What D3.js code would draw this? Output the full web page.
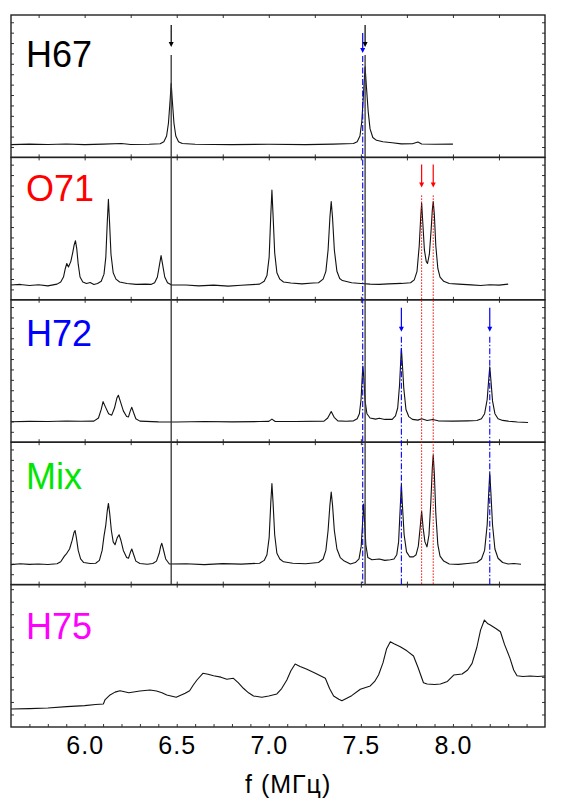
<!DOCTYPE html>
<html>
<head>
<meta charset="utf-8">
<script src="https://cdn.jsdelivr.net/npm/d3@7"></script>
<style>
  body { margin: 0; background: #fff; }
  text { font-family: "Liberation Sans", Arial, sans-serif; }
</style>
</head>
<body>
<div class="chart"></div>
<script>
// Spectra, [f (MHz), intensity in % of panel height]
var h67 = [[5.60, 9], [5.70, 9.3], [5.80, 9.1], [5.90, 9.4], [6.00, 9], [6.10, 9.3], [6.20, 9.8],
  [6.25, 9.1], [6.35, 9.2], [6.41, 9.6], [6.43, 11], [6.445, 15], [6.455, 24], [6.464, 40],
  [6.47, 52], [6.476, 40], [6.485, 24], [6.495, 15], [6.51, 11], [6.53, 9.8], [6.60, 9.2],
  [6.80, 9], [7.00, 9.2], [7.20, 9], [7.35, 9.3], [7.46, 9.8], [7.48, 11], [7.495, 15],
  [7.505, 25], [7.515, 46], [7.523, 63.7], [7.53, 50], [7.54, 32], [7.55, 20], [7.565, 14],
  [7.585, 12], [7.62, 11], [7.67, 10.3], [7.72, 9.5], [7.78, 9.6], [7.81, 10.8], [7.83, 9.4],
  [7.90, 9.2], [8.00, 9.3]];

var o71 = [[5.60, 10.4], [5.65, 10.8], [5.70, 10], [5.75, 10.6], [5.80, 9.8], [5.85, 11],
  [5.87, 12.5], [5.885, 16], [5.895, 22], [5.903, 25.5], [5.912, 23], [5.925, 27], [5.935, 33],
  [5.943, 38.5], [5.95, 41.5], [5.957, 36], [5.965, 25], [5.975, 16], [5.99, 12.5], [6.01, 11.5],
  [6.03, 12.2], [6.05, 10.8], [6.07, 11.5], [6.09, 13], [6.105, 18], [6.115, 30], [6.123, 55],
  [6.129, 70.5], [6.135, 55], [6.143, 32], [6.155, 19], [6.17, 14.5], [6.19, 12.5], [6.23, 11.5],
  [6.28, 10.8], [6.33, 11], [6.36, 10.8], [6.38, 12], [6.395, 16], [6.407, 25], [6.415, 31],
  [6.423, 25], [6.435, 16], [6.45, 12], [6.47, 10.5], [6.55, 10.4], [6.62, 9.8], [6.70, 10.3],
  [6.78, 9.6], [6.85, 10.2], [6.95, 11], [6.975, 13], [6.99, 17], [7.002, 30], [7.011, 60],
  [7.017, 77], [7.023, 60], [7.032, 33], [7.044, 19], [7.06, 14.5], [7.08, 12.5], [7.12, 11.8],
  [7.18, 11.2], [7.24, 11.8], [7.27, 12], [7.295, 14.5], [7.31, 20], [7.322, 35], [7.332, 58],
  [7.339, 69], [7.346, 58], [7.356, 35], [7.37, 20], [7.385, 15], [7.40, 13.5], [7.45, 12],
  [7.50, 11.5], [7.55, 11], [7.60, 10.8], [7.65, 11.2], [7.72, 11.5], [7.77, 12], [7.79, 14],
  [7.805, 20], [7.817, 38], [7.825, 58], [7.83, 68], [7.836, 55], [7.845, 35], [7.855, 27],
  [7.862, 25.5], [7.872, 32], [7.882, 50], [7.888, 63], [7.893, 69], [7.899, 60], [7.907, 38],
  [7.918, 22], [7.93, 16], [7.95, 13], [7.98, 11.5], [8.03, 11], [8.10, 10.5], [8.15, 10],
  [8.20, 10.6], [8.25, 10.3], [8.30, 11]];

var h72 = [[5.60, 14.4], [5.70, 14.6], [5.80, 14.5], [5.90, 14.9], [5.98, 14.7], [6.05, 14.8],
  [6.075, 17], [6.09, 23], [6.10, 28.5], [6.112, 25], [6.13, 20], [6.147, 19], [6.162, 24],
  [6.175, 31], [6.183, 33], [6.193, 29], [6.21, 22], [6.228, 18], [6.238, 17.8], [6.248, 22],
  [6.256, 24.5], [6.265, 21], [6.278, 16.5], [6.30, 14.8], [6.40, 14.3], [6.50, 14.2],
  [6.65, 14.5], [6.80, 14.3], [6.95, 14.5], [7.00, 14.6], [7.017, 16.2], [7.035, 14.5],
  [7.15, 14.5], [7.30, 14.8], [7.32, 17], [7.339, 21.5], [7.355, 17.5], [7.375, 15],
  [7.42, 14.7], [7.46, 15], [7.48, 16.5], [7.492, 20], [7.501, 30], [7.507, 45], [7.511, 53.5],
  [7.516, 45], [7.523, 29], [7.533, 20], [7.55, 17], [7.58, 16.2], [7.60, 16.8], [7.63, 16],
  [7.67, 16], [7.688, 18.5], [7.70, 24], [7.71, 40], [7.716, 56], [7.72, 66], [7.725, 56],
  [7.733, 38], [7.745, 23], [7.76, 18], [7.78, 16], [7.81, 15.5], [7.83, 16.5], [7.86, 15.2],
  [7.89, 16], [7.92, 15], [8.00, 14.8], [8.08, 15], [8.13, 15.2], [8.155, 16.5], [8.172, 20],
  [8.186, 30], [8.195, 45], [8.20, 53], [8.206, 44], [8.215, 29], [8.228, 20], [8.245, 16.5],
  [8.27, 15.3], [8.30, 14.8], [8.35, 14.2], [8.408, 13.8]];

var mix = [[5.60, 14], [5.65, 14.6], [5.70, 14.2], [5.75, 14.5], [5.80, 14.1], [5.85, 14.6],
  [5.87, 16], [5.89, 20], [5.903, 22], [5.918, 25], [5.932, 31], [5.942, 36.5], [5.948, 38],
  [5.955, 33], [5.965, 24], [5.978, 18], [5.995, 15.5], [6.03, 14.8], [6.06, 15], [6.08, 17],
  [6.095, 24], [6.105, 34], [6.115, 42], [6.123, 52], [6.129, 57], [6.136, 50], [6.145, 38],
  [6.155, 30], [6.165, 28], [6.177, 33], [6.187, 35], [6.197, 31], [6.21, 24], [6.228, 19],
  [6.238, 18.5], [6.248, 22.5], [6.256, 25], [6.265, 21.5], [6.278, 16.5], [6.30, 14.8],
  [6.34, 14.3], [6.37, 14.8], [6.39, 16.5], [6.405, 22], [6.413, 27], [6.419, 29], [6.427, 25],
  [6.44, 18], [6.46, 14.5], [6.55, 14.6], [6.65, 14], [6.75, 14.7], [6.85, 14.4], [6.95, 15],
  [6.975, 17], [6.99, 21], [7.002, 33], [7.011, 58], [7.017, 71], [7.023, 58], [7.032, 35],
  [7.044, 22], [7.06, 18], [7.08, 16], [7.13, 15], [7.20, 14.6], [7.27, 15.5], [7.295, 18],
  [7.31, 24], [7.322, 38], [7.332, 56], [7.339, 65], [7.346, 56], [7.356, 38], [7.37, 25],
  [7.388, 19], [7.41, 16.5], [7.443, 14.5], [7.47, 15.5], [7.49, 18], [7.502, 27], [7.51, 45],
  [7.515, 56.5], [7.52, 45], [7.527, 28], [7.538, 19], [7.56, 17.5], [7.60, 18], [7.63, 17],
  [7.66, 17.5], [7.68, 18], [7.695, 21], [7.705, 30], [7.713, 52], [7.72, 70.5], [7.726, 55],
  [7.735, 35], [7.748, 23], [7.765, 19.5], [7.785, 19.5], [7.80, 21], [7.812, 27], [7.822, 40],
  [7.83, 51.5], [7.838, 40], [7.848, 30], [7.859, 26.5], [7.87, 35], [7.88, 58], [7.888, 82],
  [7.893, 91], [7.899, 78], [7.907, 50], [7.918, 28], [7.93, 20], [7.95, 16.5], [7.98, 14.5],
  [8.03, 14.2], [8.08, 14.8], [8.13, 15.5], [8.155, 18], [8.172, 24], [8.186, 42], [8.195, 66],
  [8.20, 78.5], [8.206, 65], [8.215, 42], [8.228, 25], [8.245, 18.5], [8.27, 15.5],
  [8.30, 14.5], [8.33, 14.8], [8.37, 14.3]];

var h75 = [[5.60, 12.6], [5.70, 12.9], [5.80, 13.3], [5.903, 14.3], [6.00, 15], [6.06, 15.8],
  [6.102, 16.2], [6.11, 19], [6.138, 22.5], [6.165, 24.5], [6.192, 25.5], [6.24, 24.1],
  [6.30, 25.3], [6.355, 26], [6.39, 25.3], [6.42, 24], [6.446, 22.5], [6.497, 20.9],
  [6.546, 23.7], [6.57, 25.5], [6.59, 29.5], [6.61, 33], [6.642, 37.7], [6.67, 37], [6.70, 36],
  [6.74, 35], [6.772, 33.5], [6.808, 34.2], [6.835, 31], [6.862, 27.2], [6.89, 24],
  [6.917, 21.8], [6.962, 20.9], [7.00, 21.8], [7.044, 23.2], [7.07, 27], [7.098, 33],
  [7.12, 39.5], [7.143, 44.2], [7.17, 42.5], [7.207, 40.5], [7.25, 38], [7.307, 34.2],
  [7.33, 27], [7.352, 21.8], [7.38, 19.5], [7.397, 18.5], [7.45, 22], [7.497, 26.5],
  [7.551, 28.8], [7.575, 32], [7.596, 36.5], [7.62, 45], [7.64, 55], [7.66, 59.9], [7.68, 58.5],
  [7.714, 56.4], [7.75, 53.5], [7.786, 49.9], [7.81, 42], [7.84, 31.1], [7.86, 30.2],
  [7.90, 29.8], [7.932, 30.2], [7.97, 32], [8.004, 36.5], [8.05, 37.2], [8.08, 40],
  [8.104, 44.7], [8.13, 56], [8.15, 68], [8.171, 75.1], [8.19, 72.5], [8.203, 71.6],
  [8.235, 69], [8.258, 66.9], [8.28, 58], [8.31, 48.2], [8.33, 40], [8.348, 36], [8.38, 35.5],
  [8.42, 35.8], [8.46, 35.5], [8.50, 35.8]];

var panelNames = ["H67", "O71", "H72", "Mix", "H75"];
var panelColors = ["#000000", "#ff0000", "#0000ff", "#00e600", "#ff00ff"];
var spectra = [h67, o71, h72, mix, h75];
var yTickSteps = [7.3, 7.3, 7.3, 7.3, 8.8];

// marker lines (MHz)
var blackLines = [6.47, 7.523];
var blueLines = [7.51, 7.72, 8.20];
var redLines = [7.83, 7.893];
var xLabels = [6.0, 6.5, 7.0, 7.5, 8.0, 8.5];

var svgWidth = 567;
var svgHeight = 798;
var margin = { top: 15, right: 22, bottom: 71, left: 11 };
var width = svgWidth - margin.left - margin.right;
var height = svgHeight - margin.top - margin.bottom;
var panelH = height / panelNames.length;

var svg = d3.select(".chart")
  .append("svg")
  .attr("width", svgWidth)
  .attr("height", svgHeight);

var chartGroup = svg.append("g")
  .attr("transform", `translate(${margin.left}, ${margin.top})`);

var xScale = d3.scaleLinear().domain([5.6, 8.5]).range([0, width]);
var quarterTicks = d3.range(23, 34).map(d => d / 4);

spectra.forEach((data, i) => {
  var g = chartGroup.append("g").attr("transform", `translate(0, ${i * panelH})`);
  var yScale = d3.scaleLinear().domain([0, 100]).range([panelH, 0]);
  var yTicks = d3.range(yTickSteps[i], 100, yTickSteps[i]);

  g.append("g").attr("class", "tk").call(d3.axisTop(xScale).tickValues(quarterTicks).tickSize(-3).tickFormat(""));
  if (i < 4) {
    g.append("g").attr("class", "tk").attr("transform", `translate(0, ${panelH})`)
      .call(d3.axisBottom(xScale).tickValues(quarterTicks).tickSize(-3).tickFormat(""));
  }
  g.append("g").attr("class", "tk").call(d3.axisLeft(yScale).tickValues(yTicks).tickSize(-3).tickFormat(""));
  g.append("g").attr("class", "tk").attr("transform", `translate(${width}, 0)`)
    .call(d3.axisRight(yScale).tickValues(yTicks).tickSize(-3).tickFormat(""));

  var line = d3.line().x(d => xScale(d[0])).y(d => yScale(d[1]));
  g.append("path")
    .datum(data)
    .attr("fill", "none")
    .attr("stroke", "#111")
    .attr("stroke-width", 1.1)
    .attr("stroke-linejoin", "round")
    .attr("d", line);

  g.append("rect")
    .attr("width", width)
    .attr("height", panelH)
    .attr("fill", "none")
    .attr("stroke", "#222")
    .attr("stroke-width", 1.4);

  g.append("text")
    .attr("x", 15)
    .attr("y", [52, 44, 46, 47, 54][i])
    .attr("font-size", "36px")
    .attr("fill", panelColors[i])
    .text(panelNames[i]);
});

chartGroup.selectAll(".tk path.domain").remove();
chartGroup.selectAll(".tk line").attr("stroke", "#333");

// bottom axis with 0.1 minor ticks
var bottomAxis = d3.axisBottom(xScale)
  .tickValues(d3.range(57, 85).map(d => d / 10))
  .tickSize(-3)
  .tickPadding(9)
  .tickFormat(d => xLabels.some(v => Math.abs(v - d) < 1e-6) ? d3.format(".1f")(d) : "");
var bAxis = chartGroup.append("g")
  .attr("transform", `translate(0, ${height})`)
  .call(bottomAxis);
bAxis.select("path.domain").remove();
bAxis.selectAll("line").attr("stroke", "#333");
bAxis.selectAll("text").attr("font-size", "25px").attr("fill", "#000")
  .attr("letter-spacing", "1px")
  .attr("font-family", "Liberation Sans, Arial, sans-serif");

chartGroup.append("text")
  .attr("x", 234)
  .attr("y", height + 66)
  .attr("font-size", "25px")
  .attr("letter-spacing", "1px")
  .text("f (МГц)");

// marker lines with arrows
var markerBottom = 4 * panelH;
function arrow(f, y0, y1, color) {
  var xp = xScale(f);
  chartGroup.append("line")
    .attr("x1", xp).attr("x2", xp).attr("y1", y0).attr("y2", y1 - 3)
    .attr("stroke", color).attr("stroke-width", 1.2);
  chartGroup.append("path")
    .attr("d", `M${xp - 2.5},${y1 - 5}L${xp + 2.5},${y1 - 5}L${xp},${y1}Z`)
    .attr("fill", color);
}
function vline(f, y0, color, dash, w) {
  var xp = xScale(f);
  chartGroup.append("line")
    .attr("x1", xp).attr("x2", xp).attr("y1", y0).attr("y2", markerBottom)
    .attr("stroke", color).attr("stroke-width", w)
    .attr("stroke-dasharray", dash);
}

arrow(blueLines[0], 18, 38, "#0000ff");
vline(blueLines[0], 41, "#0000ff", "6,2,1.5,2", 1.1);
blueLines.slice(1).forEach(f => {
  arrow(f, panelH * 2 + 8, panelH * 2 + 32, "#0000ff");
  vline(f, panelH * 2 + 37, "#0000ff", "6,2,1.5,2", 1.1);
});
redLines.forEach(f => {
  arrow(f, panelH + 7, panelH + 30, "#ff0000");
  vline(f, panelH + 38, "#ff0000", "1.5,1.5", 1);
});
blackLines.forEach(f => {
  arrow(f, 10, 32, "#000");
  vline(f, 40, "#333", null, 1.3);
});
</script>
</body>
</html>
